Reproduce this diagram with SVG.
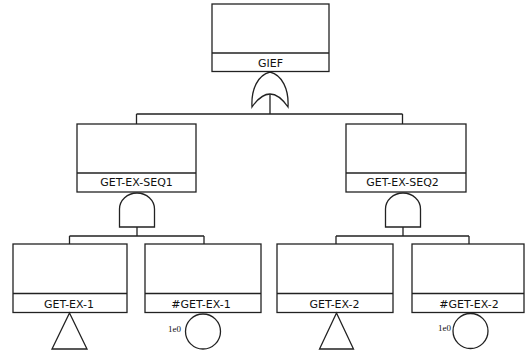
<svg xmlns="http://www.w3.org/2000/svg" width="525" height="354" viewBox="0 0 525 354">
<style>
.box{fill:#fff;stroke:#222;stroke-width:1.3}
.ln{fill:none;stroke:#222;stroke-width:1.3}
.gate{fill:#fff;stroke:#222;stroke-width:1.3}
.lbl{font-family:"DejaVu Sans",Verdana,sans-serif;font-size:11px;fill:#111;text-anchor:middle}
.prob{font-family:"Liberation Serif","DejaVu Serif",serif;font-size:9px;fill:#111;text-anchor:end}
</style>
<rect width="525" height="354" fill="#fff"/>
<g id="connectors">
<path class="ln" d="M270,94V114M136.5,114H402.5M136.5,114V124M402.5,114V124"/>
<path class="ln" d="M137,227V236M69.5,236H204M69.5,236V244M204,236V244"/>
<path class="ln" d="M403,227V236M336,236H469M336,236V244M469,236V244"/>
</g>
<g id="GIEF">
<rect class="box" x="212" y="4" width="117" height="67.5"/>
<line class="ln" x1="212" y1="53" x2="329" y2="53"/>
<text class="lbl" x="270.5" y="66.5">GIEF</text>
<path class="gate" d="M252,107C251,89 258,75 270,72C282,75 289,89 288,107Q270,81 252,107Z"/>
</g>
<g id="GET-EX-SEQ1">
<rect class="box" x="77" y="124" width="119" height="68"/>
<line class="ln" x1="77" y1="173" x2="196" y2="173"/>
<text class="lbl" x="136.5" y="186">GET-EX-SEQ1</text>
<path class="gate" d="M119.5,227V209A17.5,16 0 0 1 154.5,209V227Z"/>
</g>
<g id="GET-EX-SEQ2">
<rect class="box" x="346" y="124" width="120" height="68"/>
<line class="ln" x1="346" y1="173" x2="466" y2="173"/>
<text class="lbl" x="402.5" y="186">GET-EX-SEQ2</text>
<path class="gate" d="M385.5,227V209A17.5,16 0 0 1 420.5,209V227Z"/>
</g>
<g id="GET-EX-1">
<rect class="box" x="13" y="244" width="114" height="68.5"/>
<line class="ln" x1="13" y1="293.5" x2="127" y2="293.5"/>
<text class="lbl" x="69" y="308">GET-EX-1</text>
<path class="gate" d="M69.5,313L87,349H52Z"/>
</g>
<g id="NGET-EX-1">
<rect class="box" x="145" y="244" width="116" height="68.5"/>
<line class="ln" x1="145" y1="293.5" x2="261" y2="293.5"/>
<text class="lbl" x="201" y="308">#GET-EX-1</text>
<circle class="gate" cx="203" cy="331.5" r="17.5"/>
<text class="prob" x="181" y="331.5">1e0</text>
</g>
<g id="GET-EX-2">
<rect class="box" x="277" y="244" width="116" height="68.5"/>
<line class="ln" x1="277" y1="293.5" x2="393" y2="293.5"/>
<text class="lbl" x="334.5" y="308">GET-EX-2</text>
<path class="gate" d="M336.5,313L353.5,349H319.5Z"/>
</g>
<g id="NGET-EX-2">
<rect class="box" x="412" y="244" width="112" height="68.5"/>
<line class="ln" x1="412" y1="293.5" x2="524" y2="293.5"/>
<text class="lbl" x="469" y="308">#GET-EX-2</text>
<circle class="gate" cx="470.5" cy="331" r="17.5"/>
<text class="prob" x="451" y="331">1e0</text>
</g>
</svg>
